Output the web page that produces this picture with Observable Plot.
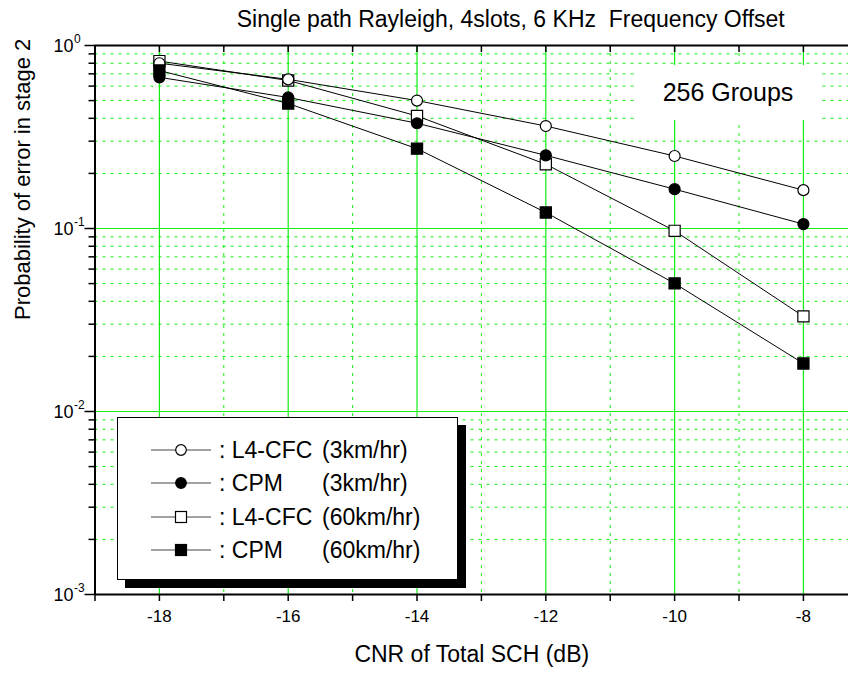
<!DOCTYPE html>
<html><head><meta charset="utf-8">
<script src="https://cdn.jsdelivr.net/npm/d3@7"></script>
<script src="https://cdn.jsdelivr.net/npm/@observablehq/plot@0.6"></script>
<style>
body{margin:0;background:#fff;font-family:"Liberation Sans",Arial,sans-serif;}
#wrap{position:relative;width:848px;height:673px;overflow:hidden;}
#legend{position:absolute;left:117px;top:417px;width:341px;height:163px;box-sizing:border-box;border:1.5px solid #000;background:#fff;box-shadow:8px 8px 0 #000;}
.row{position:absolute;left:0;height:26px;width:100%;}
.row svg{position:absolute;left:33px;top:1px;}
.row span{position:absolute;top:0;font-size:23px;line-height:26px;color:#000;white-space:pre;}
#groups{position:absolute;left:638px;top:65px;width:180px;height:55px;background:#fff;display:flex;align-items:center;justify-content:center;font-size:25px;color:#000;}
</style></head><body><div id="wrap"></div>
<script>
// ---- data ----
const cnr = [-18, -16, -14, -12, -10, -8];
const l4cfc3 = [0.80, 0.653, 0.50, 0.363, 0.249, 0.162];
const cpm3 = [0.67, 0.52, 0.376, 0.251, 0.164, 0.1057];
const l4cfc60 = [0.822, 0.644, 0.412, 0.2245, 0.0971, 0.0331];
const cpm60 = [0.73, 0.482, 0.273, 0.1223, 0.0501, 0.0183];

const seriesKeys = ["L4-CFC 3", "CPM 3", "L4-CFC 60", "CPM 60"];
const seriesNames = ["L4-CFC", "CPM", "L4-CFC", "CPM"];
const seriesSpeeds = ["(3km/hr)", "(3km/hr)", "(60km/hr)", "(60km/hr)"];
const seriesSymbols = ["circle", "circle", "square", "square"];
const seriesFilled = [false, true, false, true];
const seriesValues = [l4cfc3, cpm3, l4cfc60, cpm60];
const drawOrder = [2, 0, 3, 1]; // open squares, open circles, filled squares, filled circles

const xTickValues = [-19, -18, -17, -16, -15, -14, -13, -12, -11, -10, -9, -8];
const xTickLabels = ["", "-18", "", "-16", "", "-14", "", "-12", "", "-10", "", "-8"];
const xGridSolid = [-18, -16, -14, -12, -10, -8];
const xGridDotted = [-17, -15, -13, -11, -9];
const yDecades = [1e-3, 1e-2, 1e-1, 1];
const yExponents = ["-3", "-2", "-1", "0"];
const yGridSolid = [1e-2, 1e-1];
const minorMultipliers = [2, 3, 4, 5, 6, 7, 8, 9];

const titleText = "Single path Rayleigh, 4slots, 6 KHz  Frequency Offset";
const xLabelText = "CNR of Total SCH (dB)";
const yLabelText = "Probability of error in stage 2";
const groupsText = "256 Groups";

// ---- build tables ----
const rows = [];
seriesKeys.forEach((k, s) => cnr.forEach((x, i) => rows.push({series: k, s, x, y: seriesValues[s][i]})));
const yMinor = [];
[1e-3, 1e-2, 1e-1].forEach(d => minorMultipliers.forEach(m => yMinor.push(d * m)));

const GREEN = "#11ee11";
const dotted = "3,5";

const dotMarks = drawOrder.map(s => Plot.dot(rows.filter(r => r.s === s), {
  x: "x", y: "y", symbol: seriesSymbols[s],
  r: seriesSymbols[s] === "square" ? 6.3 : 5.5,
  fill: seriesFilled[s] ? "black" : "white", stroke: "black", strokeWidth: 1.2
}));

const chart = Plot.plot({
  width: 848, height: 673,
  marginLeft: 94.5, marginRight: 0, marginTop: 45, marginBottom: 79,
  style: {fontFamily: "'Liberation Sans', Arial, sans-serif", fontSize: "17px", color: "black", background: "white", overflow: "visible"},
  x: {domain: [-19, -7.3], axis: null},
  y: {type: "log", domain: [1e-3, 1], axis: null},
  marks: [
    // grid
    Plot.ruleY(yMinor, {stroke: GREEN, strokeDasharray: dotted, strokeWidth: 1}),
    Plot.ruleY(yGridSolid, {stroke: GREEN, strokeWidth: 1.2}),
    Plot.ruleX(xGridDotted, {stroke: GREEN, strokeDasharray: dotted, strokeWidth: 1}),
    Plot.ruleX(xGridSolid, {stroke: GREEN, strokeWidth: 1.2}),
    // axes lines
    Plot.ruleX([-19], {stroke: "black", strokeWidth: 2}),
    Plot.ruleY([1e-3, 1], {stroke: "black", strokeWidth: 2}),
    Plot.axisX(xTickValues, {anchor: "bottom", tickSize: 7, tickPadding: 8, strokeWidth: 1.5,
      tickFormat: d => xTickLabels[xTickValues.indexOf(d)], fontSize: 17, label: null}),
    Plot.axisX(xTickValues, {anchor: "top", tickSize: -6, strokeWidth: 1.5, tickFormat: () => "", label: null}),
    Plot.axisY(yMinor, {anchor: "left", tickSize: 6, strokeWidth: 1.5, tickFormat: () => "", label: null}),
    Plot.axisY(yDecades, {anchor: "left", tickSize: 10, strokeWidth: 1.5, tickFormat: () => "", label: null}),
    Plot.text(yDecades, {y: d => d, frameAnchor: "left", text: () => "10", textAnchor: "end", dx: -21.5, dy: 1, fontSize: 18, fill: "black"}),
    Plot.text(yDecades, {y: d => d, frameAnchor: "left", text: (d, i) => yExponents[i], textAnchor: "start", dx: -21, dy: -6, fontSize: 12, fill: "black"}),
    // labels
    Plot.text([titleText], {frameAnchor: "top", text: d => d, dx: 39, dy: -35, fontSize: 23, fill: "black"}),
    Plot.text([xLabelText], {frameAnchor: "bottom", text: d => d, dy: 67, fontSize: 23, fill: "black"}),
    Plot.text([yLabelText], {frameAnchor: "left", text: d => d, rotate: -90, dx: -72, fontSize: 22, fill: "black"}),
    // data
    Plot.line(rows, {x: "x", y: "y", z: "series", stroke: "black", strokeWidth: 1}),
    ...dotMarks
  ]
});

const wrap = document.getElementById("wrap");
wrap.appendChild(chart);

// "256 Groups" label box
const g = document.createElement("div");
g.id = "groups"; g.textContent = groupsText;
wrap.appendChild(g);

// legend
const leg = d3.select(wrap).append("div").attr("id", "legend");
seriesKeys.forEach((k, s) => {
  const row = leg.append("div").attr("class", "row").style("top", (19 + s * 33.3) + "px");
  const svg = row.append("svg").attr("width", 64).attr("height", 24);
  svg.append("line").attr("x1", 0).attr("x2", 60).attr("y1", 12).attr("y2", 12).attr("stroke", "#444").attr("stroke-width", 1);
  const fill = seriesFilled[s] ? "black" : "white";
  if (seriesSymbols[s] === "circle") {
    svg.append("circle").attr("cx", 30).attr("cy", 12).attr("r", 5.3).attr("fill", fill).attr("stroke", "black").attr("stroke-width", 1.2);
  } else {
    svg.append("rect").attr("x", 24.5).attr("y", 6.5).attr("width", 11).attr("height", 11).attr("fill", fill).attr("stroke", "black").attr("stroke-width", 1.2);
  }
  row.append("span").style("left", "101px").text(": " + seriesNames[s]);
  row.append("span").style("left", "204px").text(seriesSpeeds[s]);
});
</script>
</body></html>
